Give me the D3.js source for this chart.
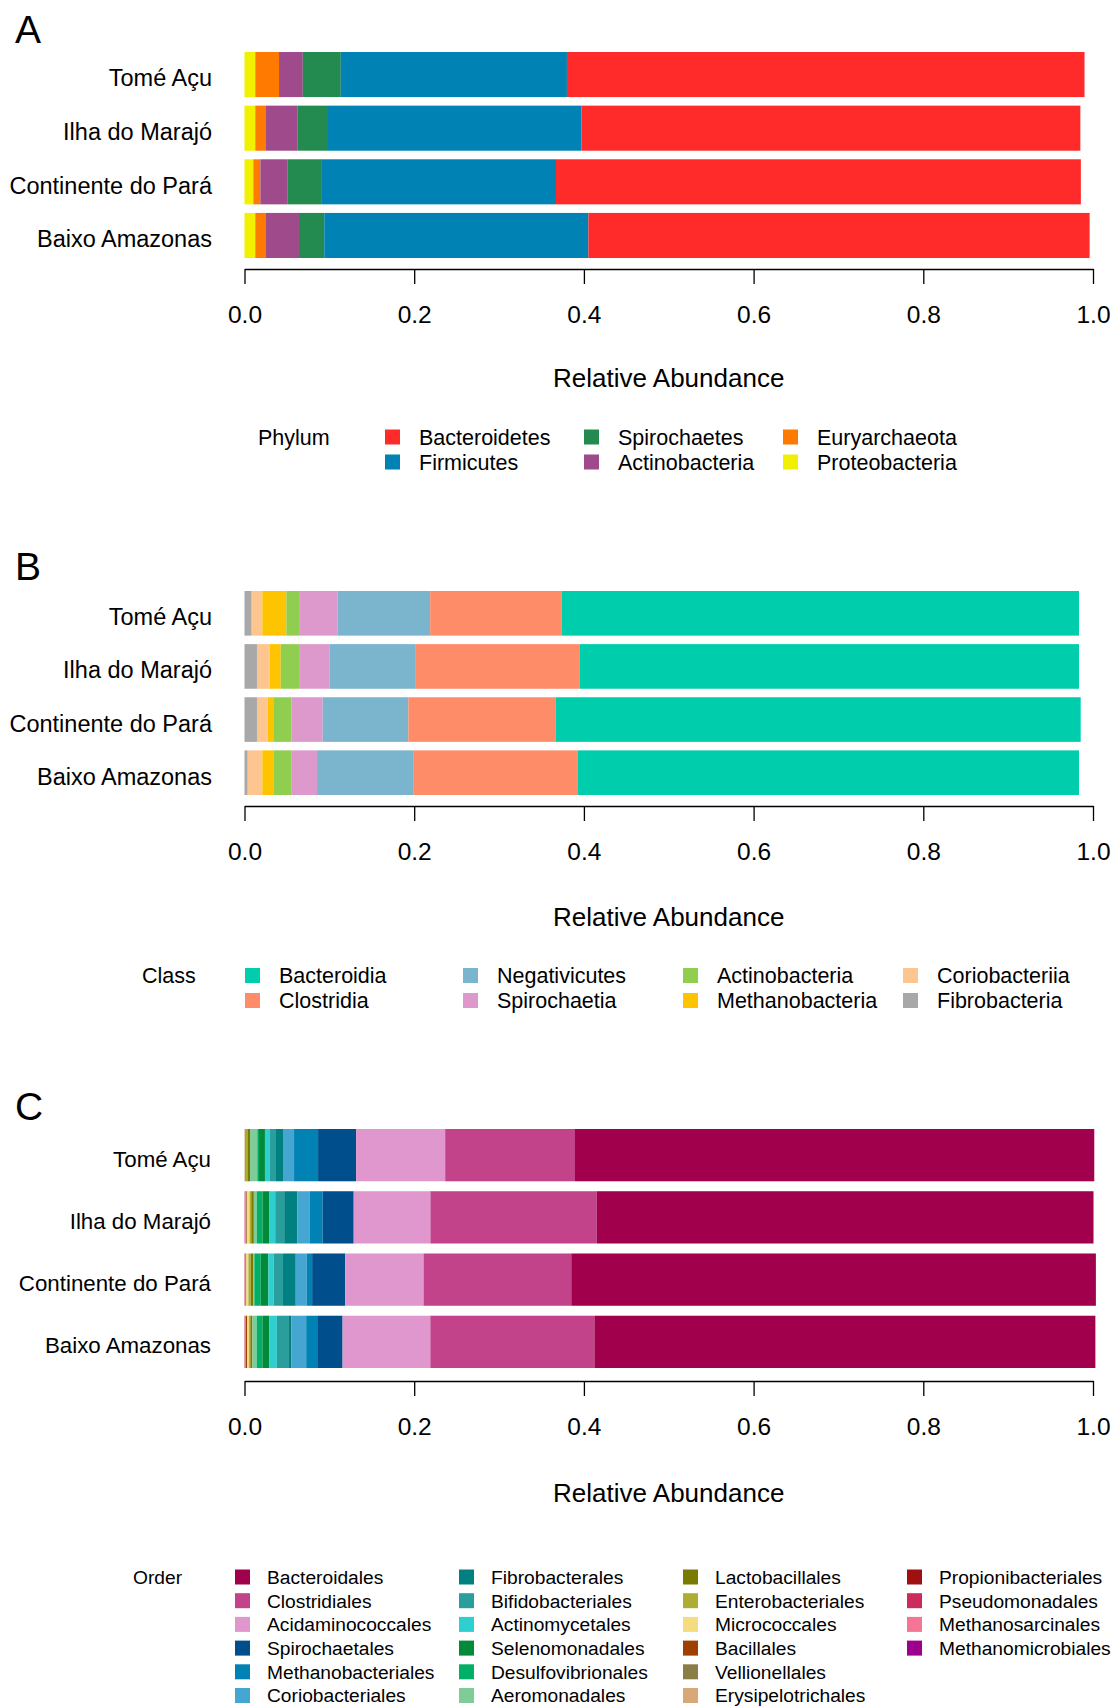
<!DOCTYPE html>
<html>
<head>
<meta charset="utf-8">
<script src="https://cdn.jsdelivr.net/npm/d3@7"></script>
<style>
  html, body { margin: 0; padding: 0; background: #ffffff; }
  svg { display: block; font-family: "Liberation Sans", Arial, sans-serif; }
</style>
</head>
<body>
<svg id="chart" width="1118" height="1706"></svg>
<script>
// ---------------- DATA ----------------
const regions = ["Tomé Açu", "Ilha do Marajó", "Continente do Pará", "Baixo Amazonas"];
const axisTicks = [0, 0.2, 0.4, 0.6, 0.8, 1.0];
const axisTitle = "Relative Abundance";

// Panel A – Phylum (legend order; stacked in reverse from the left)
const phylumNames  = ["Bacteroidetes", "Firmicutes", "Spirochaetes", "Actinobacteria", "Euryarchaeota", "Proteobacteria"];
const phylumColors = ["#ff2a2a", "#0082b4", "#238b4f", "#9e4a8b", "#ff7a00", "#f0f000"];
const phylumTomeAcu     = [0.610, 0.2665, 0.0448, 0.0280, 0.0280, 0.0127];
const phylumIlhaMarajo  = [0.588, 0.2987, 0.0362, 0.0369, 0.0126, 0.0127];
const phylumContinente  = [0.6186, 0.2768, 0.0393, 0.0323, 0.0083, 0.0104];
const phylumBaixoAmaz   = [0.5907, 0.3113, 0.0298, 0.0389, 0.0126, 0.0127];

// Panel B – Class
const classNames  = ["Bacteroidia", "Clostridia", "Negativicutes", "Spirochaetia", "Actinobacteria", "Methanobacteria", "Coriobacteriia", "Fibrobacteria"];
const classColors = ["#00cdac", "#ff8c69", "#7ab4cd", "#dd99cc", "#8fce4f", "#ffc400", "#fdc58f", "#a8a8a8"];
const classTomeAcu    = [0.6099, 0.1548, 0.1093, 0.0452, 0.0150, 0.0283, 0.0125, 0.0085];
const classIlhaMarajo = [0.5887, 0.1929, 0.1014, 0.0362, 0.0216, 0.0130, 0.0150, 0.0147];
const classContinente = [0.6186, 0.1738, 0.1009, 0.0366, 0.0217, 0.0066, 0.0126, 0.0147];
const classBaixoAmaz  = [0.5906, 0.1934, 0.1140, 0.0298, 0.0217, 0.0130, 0.0172, 0.0038];

// Panel C – Order
const orderNames = ["Bacteroidales", "Clostridiales", "Acidaminococcales", "Spirochaetales", "Methanobacteriales", "Coriobacteriales",
  "Fibrobacterales", "Bifidobacteriales", "Actinomycetales", "Selenomonadales", "Desulfovibrionales", "Aeromonadales",
  "Lactobacillales", "Enterobacteriales", "Micrococcales", "Bacillales", "Vellionellales", "Erysipelotrichales",
  "Propionibacteriales", "Pseudomonadales", "Methanosarcinales", "Methanomicrobiales"];
const orderColors = ["#a1004c", "#c2438a", "#df97cd", "#004f8c", "#0082b4", "#45a6d1",
  "#008080", "#2a9d9d", "#2ecfcf", "#008a3a", "#00b066", "#80cc99",
  "#7a7a00", "#adad33", "#f5dc80", "#a04000", "#8a7d45", "#d9a878",
  "#a01010", "#cc2a5c", "#f57595", "#9e008e"];
const orderTomeAcu    = [0.612, 0.153, 0.105, 0.0448, 0.0283, 0.013, 0.0083, 0.0071, 0.0059, 0.007, 0.002, 0.0086, 0.003, 0.002, 0, 0, 0.001, 0.0005, 0, 0, 0, 0];
const orderIlhaMarajo = [0.5857, 0.1958, 0.0904, 0.0366, 0.015, 0.015, 0.0153, 0.0106, 0.0067, 0.0083, 0.0067, 0.0035, 0.003, 0.002, 0.003, 0.0005, 0.001, 0.0005, 0.0003, 0.0003, 0.0002, 0.0002];
const orderContinente = [0.6183, 0.1741, 0.0924, 0.0389, 0.0063, 0.013, 0.015, 0.011, 0.0063, 0.009, 0.0075, 0.001, 0.0033, 0.0027, 0.0024, 0.0003, 0.001, 0.0003, 0.0002, 0.0002, 0.0001, 0.0001];
const orderBaixoAmaz  = [0.5904, 0.1934, 0.1034, 0.0299, 0.013, 0.0173, 0.0038, 0.0135, 0.0087, 0.0083, 0.0067, 0.0051, 0.0024, 0.0015, 0.0024, 0.0015, 0.0005, 0.0003, 0.0003, 0.0002, 0.0001, 0.0001];

// ---------------- DRAWING ----------------
const svg = d3.select("#chart");
const x = d3.scaleLinear().domain([0, 1]).range([244.5, 1093]);

function drawPanel(cfg) {
  const g = svg.append("g");
  const y = d3.scaleBand().domain(regions).range(cfg.barRange).paddingInner(cfg.pad).paddingOuter(0);

  // panel letter
  g.append("text").attr("x", 15).attr("y", cfg.letterY)
    .attr("font-size", 39).attr("fill", "#000").text(cfg.letter);

  // bars (stack from left in reverse legend order)
  const keys = cfg.names.slice().reverse();
  const rows = regions.map((r, i) => {
    const o = { region: r };
    cfg.names.forEach((n, j) => { o[n] = cfg.values[i][j]; });
    return o;
  });
  const series = d3.stack().keys(keys)(rows);
  const color = d3.scaleOrdinal().domain(cfg.names).range(cfg.colors);
  g.selectAll("g.series").data(series).join("g")
    .attr("fill", d => color(d.key))
    .selectAll("rect").data(d => d).join("rect")
      .attr("x", d => x(d[0]))
      .attr("y", d => y(d.data.region))
      .attr("width", d => Math.max(0, x(d[1]) - x(d[0])))
      .attr("height", y.bandwidth());

  // region labels
  g.selectAll("text.region").data(regions).join("text")
    .attr("class", "region")
    .attr("x", cfg.labelX).attr("y", d => y(d) + y.bandwidth() / 2 + 3.5)
    .attr("dy", "0.36em").attr("text-anchor", "end")
    .attr("font-size", cfg.labelSize).attr("fill", "#000").text(d => d);

  // axis
  const ax = g.append("g").attr("transform", `translate(0,${cfg.axisY})`)
    .call(d3.axisBottom(x).tickValues(axisTicks).tickFormat(d3.format(".1f"))
      .tickSize(15).tickSizeOuter(0).tickPadding(22));
  ax.select(".domain").attr("stroke", "#000").attr("stroke-width", 1.3);
  ax.selectAll(".tick line").attr("stroke", "#000").attr("stroke-width", 1.3);
  ax.selectAll(".tick text").attr("font-size", 24.5).attr("fill", "#000")
    .attr("font-family", "Liberation Sans, Arial, sans-serif");

  g.append("text").attr("x", (x(0) + x(1)) / 2).attr("y", cfg.titleY)
    .attr("text-anchor", "middle").attr("font-size", 26).attr("fill", "#000").text(axisTitle);

  // legend
  g.append("text").attr("x", cfg.legTitleX).attr("y", cfg.legY0).attr("dy", "0.36em")
    .attr("font-size", cfg.legSize).attr("fill", "#000").text(cfg.legTitle);
  const leg = g.selectAll("g.leg").data(cfg.names).join("g")
    .attr("transform", (d, i) => {
      const c = Math.floor(i / cfg.legRows), r = i % cfg.legRows;
      return `translate(${cfg.legSqX[c]},${cfg.legY0 + r * cfg.legDY})`;
    });
  leg.append("rect").attr("x", 0).attr("y", -cfg.sq / 2).attr("width", cfg.sq).attr("height", cfg.sq)
    .attr("fill", d => color(d));
  leg.append("text").attr("x", cfg.legTextOff).attr("y", 0).attr("dy", "0.36em")
    .attr("font-size", cfg.legSize).attr("fill", "#000").text(d => d);
}

drawPanel({
  letter: "A", letterY: 43,
  names: phylumNames, colors: phylumColors,
  values: [phylumTomeAcu, phylumIlhaMarajo, phylumContinente, phylumBaixoAmaz],
  barRange: [52, 258], pad: 0.16, labelX: 212, labelSize: 23.5,
  axisY: 269, titleY: 387,
  legTitle: "Phylum", legTitleX: 258, legY0: 437, legDY: 25, legRows: 2,
  legSqX: [385, 584, 783], legTextOff: 34, sq: 15, legSize: 21.5
});

drawPanel({
  letter: "B", letterY: 580,
  names: classNames, colors: classColors,
  values: [classTomeAcu, classIlhaMarajo, classContinente, classBaixoAmaz],
  barRange: [591, 795], pad: 0.16, labelX: 212, labelSize: 23.5,
  axisY: 806, titleY: 926,
  legTitle: "Class", legTitleX: 142, legY0: 975.5, legDY: 25, legRows: 2,
  legSqX: [245, 463, 683, 903], legTextOff: 34, sq: 15, legSize: 21.5
});

drawPanel({
  letter: "C", letterY: 1120,
  names: orderNames, colors: orderColors,
  values: [orderTomeAcu, orderIlhaMarajo, orderContinente, orderBaixoAmaz],
  barRange: [1129, 1368], pad: 0.16, labelX: 211, labelSize: 22.3,
  axisY: 1381, titleY: 1502,
  legTitle: "Order", legTitleX: 133, legY0: 1577, legDY: 23.7, legRows: 6,
  legSqX: [235, 459, 683, 907], legTextOff: 32, sq: 15, legSize: 19.2
});
</script>
</body>
</html>
